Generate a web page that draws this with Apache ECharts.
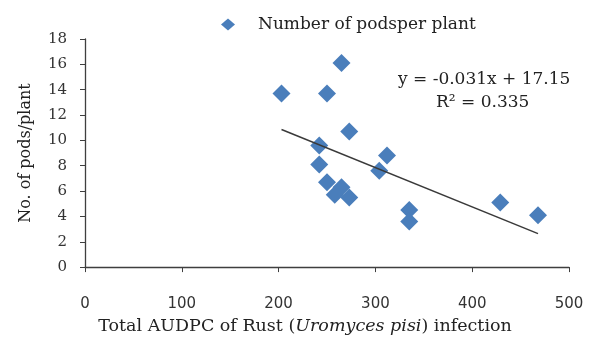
<!DOCTYPE html>
<html>
<head>
<meta charset="utf-8">
<script src="https://cdn.jsdelivr.net/npm/echarts@6/dist/echarts.min.js"></script>
<style>
html,body{margin:0;padding:0;background:#fff;}
#chart{width:594px;height:340px;}
</style>
</head>
<body>
<div id="chart"></div>
<script>
// Data
var audpc = [203, 250, 265, 273, 242, 312, 242, 304, 250, 265, 258, 273, 335, 335, 429, 468];
var podsPerPlant = [13.7, 13.7, 16.1, 10.7, 9.6, 8.8, 8.1, 7.6, 6.7, 6.3, 5.7, 5.5, 4.5, 3.6, 5.1, 4.1];
var trendSlope = -0.031;
var trendIntercept = 17.15;
var trendRange = [203, 468];
var xTicks = [0, 100, 200, 300, 400, 500];
var yTicks = [0, 2, 4, 6, 8, 10, 12, 14, 16, 18];
var seriesName = 'Number of podsper plant';
var equationText = 'y = -0.031x + 17.15';
var r2Text = 'R² = 0.335';

var points = audpc.map(function (x, i) { return [x, podsPerPlant[i]]; });
var trend = trendRange.map(function (x) { return [x, trendSlope * x + trendIntercept]; });

var serif = '"DejaVu Serif", "Liberation Serif", serif';
var axisColor = '#3f3f3f';

var chart = echarts.init(document.getElementById('chart'), null, {renderer: 'canvas'});
chart.setOption({
  animation: false,
  backgroundColor: '#ffffff',
  grid: {left: 85, right: 25, top: 39, bottom: 70, containLabel: false},
  legend: {
    data: [{name: seriesName, icon: 'diamond'}],
    left: 216, top: 11,
    itemWidth: 14, itemHeight: 12,
    selectedMode: false,
    textStyle: {fontFamily: serif, fontSize: 17, color: '#222', padding: [0, 0, 0, 18]}
  },
  xAxis: {
    type: 'value', min: xTicks[0], max: xTicks[xTicks.length - 1], interval: 100,
    splitLine: {show: false},
    axisLine: {lineStyle: {color: axisColor, width: 1.3}},
    axisTick: {show: true, length: 5, lineStyle: {color: axisColor}},
    axisLabel: {margin: 30, fontFamily: '"DejaVu Sans", sans-serif', fontSize: 15, color: '#333'},
    name: '{n|Total AUDPC of Rust (}{i|Uromyces pisi}{n|) infection}',
    nameLocation: 'middle', nameGap: 49,
    nameTextStyle: {
      padding: [0, 44, 0, 0],
      rich: {
        n: {fontFamily: serif, fontSize: 17.5, color: '#222'},
        i: {fontFamily: serif, fontSize: 17.5, fontStyle: 'italic', color: '#222'}
      }
    }
  },
  yAxis: {
    type: 'value', min: yTicks[0], max: yTicks[yTicks.length - 1], interval: 2,
    splitLine: {show: false},
    axisLine: {show: true, lineStyle: {color: axisColor, width: 1.3}},
    axisTick: {show: true, length: 5, lineStyle: {color: axisColor}},
    axisLabel: {margin: 18, fontFamily: serif, fontSize: 15, color: '#333'},
    name: 'No. of pods/plant',
    nameLocation: 'middle', nameGap: 51, nameRotate: 90,
    nameTextStyle: {fontFamily: serif, fontSize: 16, color: '#222'}
  },
  series: [
    {
      name: seriesName, type: 'scatter', data: points,
      symbol: 'diamond', symbolSize: 18,
      itemStyle: {color: '#4A7EBB', opacity: 1}
    },
    {
      name: 'trend', type: 'line', data: trend,
      showSymbol: false, symbol: 'none',
      lineStyle: {color: '#3a3a3a', width: 1.5},
      silent: true
    }
  ],
  graphic: [
    {type: 'text', left: 398, top: 71, style: {text: equationText, font: '17px ' + serif, fill: '#222'}},
    {type: 'text', left: 436, top: 94, style: {text: r2Text, font: '17px ' + serif, fill: '#222'}}
  ]
});
</script>
</body>
</html>
